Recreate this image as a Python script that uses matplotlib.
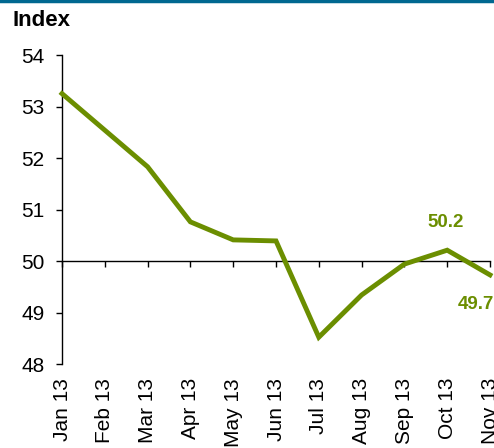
import matplotlib
matplotlib.use("Agg")
import matplotlib.pyplot as plt
from matplotlib.lines import Line2D

months = ["Jan 13", "Feb 13", "Mar 13", "Apr 13", "May 13", "Jun 13",
          "Jul 13", "Aug 13", "Sep 13", "Oct 13", "Nov 13"]
values = [53.25, 52.54, 51.83, 50.76, 50.41, 50.39, 48.52, 49.34, 49.94, 50.21, 49.73]
yticks = [48, 49, 50, 51, 52, 53, 54]

green = "#6b8e00"
plt.rcParams['font.family'] = ['Liberation Sans', 'DejaVu Sans']

fig = plt.figure(figsize=(4.94, 4.48), dpi=100)
ax = fig.add_axes([62/494, 84/448, 428/494, 309/448])
x = list(range(len(months)))
ax.plot(x, values, color=green, lw=3.5, solid_joinstyle='miter', clip_on=False, zorder=3)
ax.set_xlim(0, len(months) - 1)
ax.set_ylim(48, 54)
ax.set_yticks(yticks)
ax.tick_params(axis='y', direction='out', length=4.5, width=1, labelsize=15, pad=8)
ax.set_xticks(x)
ax.set_xticklabels(months, rotation=90, fontsize=15)
ax.tick_params(axis='x', length=0, pad=10)
for s in ['top', 'right', 'bottom']:
    ax.spines[s].set_visible(False)
ax.spines['left'].set_linewidth(1)

sec = ax.secondary_xaxis((50 - 48) / (54 - 48))
sec.set_xticks(x)
sec.set_xticklabels([])
sec.tick_params(direction='out', length=4.5, width=1)
sec.spines['bottom'].set_linewidth(1)

ax.annotate(f"{values[9]:.1f}", (x[9], values[9]), xytext=(-1, 20), textcoords='offset points',
            ha='center', va='center', color=green, fontsize=13.5, fontweight='bold')
ax.annotate(f"{values[10]:.1f}", (x[10], values[10]), xytext=(-10, -21), textcoords='offset points',
            ha='center', va='center', color=green, fontsize=13.5, fontweight='bold', annotation_clip=False)

fig.text(12/494, 1 - 21/448, "Index", fontsize=16, fontweight='bold', va='center', ha='left')
fig.add_artist(Line2D([0, 1], [1 - 1.5/448, 1 - 1.5/448], transform=fig.transFigure,
                      color="#006890", lw=2.5))

fig.savefig("out.png", dpi=100)
